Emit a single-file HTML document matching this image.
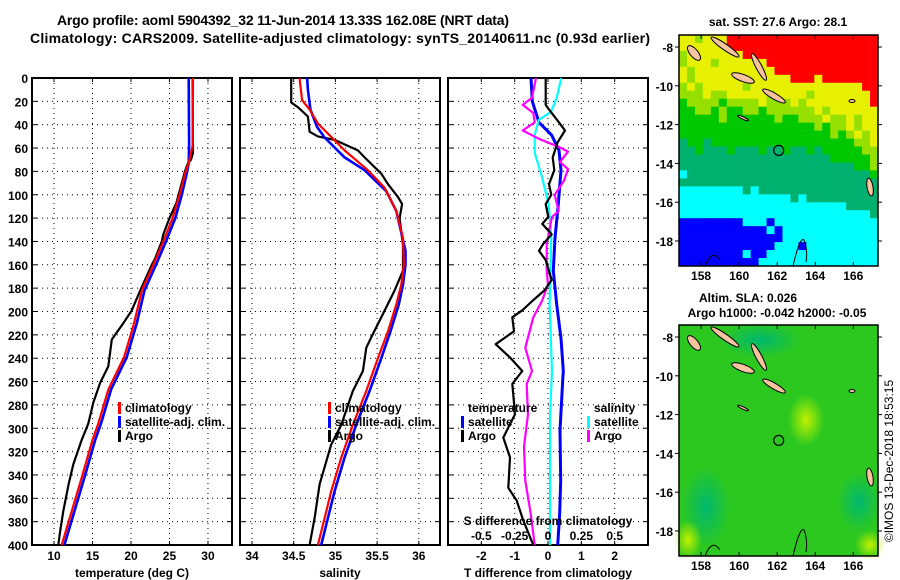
<!DOCTYPE html>
<html><head><meta charset="utf-8">
<style>
html,body{margin:0;padding:0;background:#fff;}
svg{display:block;font-family:"Liberation Sans",Arial,sans-serif;}
.t{font-weight:bold;font-size:14px;}
.tk{font-weight:bold;font-size:12px;}
.lg{font-weight:bold;font-size:12px;}
</style></head>
<body>
<svg id="root" width="900" height="580" viewBox="0 0 900 580">
<text class="t" x="283" y="25" text-anchor="middle" textLength="452">Argo profile: aoml 5904392_32 11-Jun-2014 13.33S 162.08E (NRT data)</text>
<text class="t" x="340" y="43" text-anchor="middle" textLength="620">Climatology: CARS2009. Satellite-adjusted climatology: synTS_20140611.nc (0.93d earlier)</text>
<g id="p1"></g>
<g id="p2"></g>
<g id="p3"></g>
<g id="m1"></g>
<g id="m2"></g>
<text x="893" y="461" font-size="12" text-anchor="middle" transform="rotate(-90 893 461)">©IMOS 13-Dec-2018 18:53:15</text>
</svg>
<script>
// ---------- data ----------
const yTicks=[0,20,40,60,80,100,120,140,160,180,200,220,240,260,280,300,320,340,360,380,400];
const tTicks=[10,15,20,25,30];
const sTicks=[34,34.5,35,35.5,36];
const dTicks=[-2,-1,0,1,2];
const sdTicks=[-0.5,-0.25,0,0.25,0.5];
const sdTickLabels=['-0.5','-0.25','0','0.25','0.5'];

const climTDepth=[0,58,73,80,100,120,140,160,182,210,239,267,296,310,340,370,400];
const climT=[28.06,28.0,27.5,27.1,26.3,25.4,24.2,22.9,21.4,20.4,19.1,17.05,15.75,15.0,13.7,12.35,11.0];
const satT=[27.5,27.55,27.5,27.3,26.6,25.75,24.55,23.25,21.75,20.75,19.45,17.4,16.1,15.35,14.05,12.7,11.35];
const argoTDepth=[0,64,70,73,80,107,120,134,140,155,160,182,199,210,224,247,261,278,296,310,331,348,371,388,400];
const argoT=[28.0,28.05,27.8,27.4,27.0,25.9,25.0,24.2,24.0,23.1,22.7,21.2,20.1,19.0,17.5,17.05,16.0,15.1,14.45,13.6,12.5,11.9,11.2,10.8,10.55];

const climSDepth=[0,19,27,39,62,79,94,114,137,160,177,194,217,240,268,297,325,354,377,400];
const climS=[34.57,34.6,34.69,34.79,35.11,35.39,35.59,35.73,35.81,35.82,35.79,35.73,35.63,35.51,35.37,35.21,35.07,34.95,34.87,34.79];
const satSDepth=[0,10,27,42,51,68,79,97,114,148,160,177,194,217,240,268,297,325,354,377,400];
const satS=[34.66,34.67,34.7,34.78,34.87,35.11,35.35,35.61,35.73,35.84,35.84,35.81,35.76,35.66,35.55,35.41,35.25,35.11,34.99,34.91,34.83];
const argoSDepth=[0,21,25,33,46,50,53,62,68,82,91,102,108,120,143,165,182,205,222,231,251,268,297,314,348,377,400];
const argoS=[34.47,34.47,34.55,34.67,34.69,34.79,34.99,35.27,35.35,35.55,35.63,35.75,35.8,35.77,35.81,35.81,35.71,35.55,35.43,35.37,35.33,35.21,35.07,34.95,34.81,34.75,34.69];

const satDTDepth=[0,20,38,49,62,79,108,137,165,194,223,251,259,302,345,373,400];
const satDT=[-0.51,-0.47,-0.27,0.11,0.33,0.39,0.31,0.21,0.16,0.26,0.39,0.46,0.44,0.36,0.38,0.35,0.29];
const argoDTDepth=[0,23,27,38,45,55,68,79,91,100,108,119,125,134,142,148,156,173,182,191,199,205,217,228,240,251,262,288,308,325,351,362,379,400];
const argoDT=[-0.07,-0.07,0.03,0.33,0.51,0.29,0.14,0.19,0.03,0.1,-0.07,0.01,-0.17,0.11,-0.14,-0.27,-0.07,0.11,-0.11,-0.47,-0.77,-1.07,-1.02,-1.57,-1.12,-0.77,-1.07,-0.99,-1.34,-1.14,-1.19,-0.94,-0.74,-0.44];
const satDSDepth=[0,17,29,36,49,64,85,108,137,194,251,290,340,400];
const satDS=[0.1,0.065,0.022,-0.07,-0.1,-0.1,-0.045,0.005,0.025,0.012,0.03,0.015,0.015,0.015];
const argoDSDepth=[0,17,23,30,38,45,52,59,63,72,78,88,100,114,119,142,165,177,191,205,231,251,262,288,316,345,373,400];
const argoDS=[-0.09,-0.12,-0.19,-0.11,-0.1,-0.19,-0.07,0.08,0.15,0.09,0.15,0.12,0.05,0.08,0.03,-0.01,-0.01,0,-0.045,-0.11,-0.17,-0.12,-0.16,-0.15,-0.18,-0.17,-0.13,-0.1];

const sstRows=[
"YYLYYYRRRRRRRRRRRRRRRRRRR","YYYYYYRRRRRRRRRRRRRRRRRRR","LYYYYYYYRRRRRRRRRRRRRRRRR","LYYYLYYYYYYRRRRRRRRRRRRRR",
"YLYYYYYYYYYYRRRRRRRRRRRRR","YLYYYYYYYYYYYYRRRYRRRRRRR","LYLYYYYYLYYYYYYYYYYYYYYRR","LLLYLLYYYYYLYYYYLYYYYYYYR",
"GLLLLGLLLLYLLLYLYYYYYYYYR","GGLLGLGGLLGLLLLLLYLYYYYYY","GGGGGLGGGGGGLGGLLLYLLYLYY","GGGGGGGGGGGGGGGGGLGLLYLYY",
"GGGGGGGGGGGGGGGGGGGLGLYLY","TGGTGGGGGGGGGGGGGGGGGGLLY","TTGTTTGTTTGTTGTTGTGGGGGLL","TTTTTTTTTTTTTTTTTTTGGGGGL",
"TTTTTTTTTTTTTTTTTTTTTTGGL","CTTTTTTTTTTTTTTTTTTTTTTTG","TTTTTTTTTTTTTTTTTTTTTTTTT","CCCCCCCCTCTTTTTTTTTTTTTTT",
"CCCCCCCCCCCCCCTCTTTTTTTTT","CCCCCCCCCCCCCCCCCCCCCTTTT","CCCCCCCCCCCCCCCCCCCCCCCCT","BBBBBBBBCCCBCCCCCCCCCCCCC",
"BBBBBBBBBBBCBCCCCCCCCCCCC","BBBBBBBBBBBBBCCCCCCCCCCCC","BBBBBBBBBBBBCCCBCCCCCCCCC","BBBBBBBBCBBCCCCCCCCCCCCCC",
"BBBBBBBBBBCCCCCCCCCCCCCCC"];
const lonTicks=[158,160,162,164,166];
const latTicks=[-8,-10,-12,-14,-16,-18];
const argoLon=162.08, argoLat=-13.33;

// ---------- helpers ----------
const NS='http://www.w3.org/2000/svg';
function E(tag,parent){const e=document.createElementNS(NS,tag);parent.appendChild(e);return e;}
const Y0=78, YK=(545-78)/400;
function yD(d){return Y0+d*YK;}

function panel(g,x0,x1,xmin,xmax,ticks,labels,ylabels){
  const sx=v=>x0+(v-xmin)/(xmax-xmin)*(x1-x0);
  ticks.forEach((t,i)=>{
    const l=E('line',g);l.setAttribute('x1',sx(t));l.setAttribute('x2',sx(t));l.setAttribute('y1',Y0);l.setAttribute('y2',545);
    l.setAttribute('stroke','#000');l.setAttribute('stroke-width','1');l.setAttribute('stroke-dasharray','1 4');
    
    
    const tx=E('text',g);tx.setAttribute('x',sx(t));tx.setAttribute('y',560);tx.setAttribute('text-anchor','middle');tx.setAttribute('class','tk');tx.textContent=labels[i];
    
    
    [[545,541],[78,82]].forEach(p=>{const m=E('line',g);m.setAttribute('x1',sx(t));m.setAttribute('x2',sx(t));m.setAttribute('y1',p[0]);m.setAttribute('y2',p[1]);m.setAttribute('stroke','#000');
      
      });
  });
  yTicks.forEach(d=>{
    if(d>0&&d<400){const l=E('line',g);l.setAttribute('x1',x0);l.setAttribute('x2',x1);l.setAttribute('y1',yD(d));l.setAttribute('y2',yD(d));
      l.setAttribute('stroke','#000');l.setAttribute('stroke-dasharray','1 4');
      
      }
    [[x0,x0+5],[x1,x1-5]].forEach(p=>{const m=E('line',g);m.setAttribute('x1',p[0]);m.setAttribute('x2',p[1]);m.setAttribute('y1',yD(d));m.setAttribute('y2',yD(d));m.setAttribute('stroke','#000');
      
      });
    if(ylabels){const tx=E('text',g);tx.setAttribute('x',28);tx.setAttribute('y',yD(d)+5);tx.setAttribute('text-anchor','end');tx.setAttribute('class','tk');tx.textContent=d;
      
      }
  });
  const r=E('rect',g);r.setAttribute('x',x0);r.setAttribute('y',Y0);r.setAttribute('width',x1-x0);r.setAttribute('height',545-Y0);r.setAttribute('fill','none');r.setAttribute('stroke','#000');r.setAttribute('stroke-width','2');
  
  
  return sx;
}
function series(g,sx,depths,vals,color,w,name){
  const p=E('polyline',g);
  p.setAttribute('points',vals.map((v,i)=>sx(v).toFixed(1)+','+yD(depths[i]).toFixed(1)).join(' '));
  p.setAttribute('fill','none');p.setAttribute('stroke',color);p.setAttribute('stroke-width',w);p.setAttribute('stroke-linejoin','round');
  
  
}
function txt(g,x,y,s,cls,anchor,name){const t=E('text',g);t.setAttribute('x',x);t.setAttribute('y',y);t.setAttribute('class',cls);if(anchor)t.setAttribute('text-anchor',anchor);t.textContent=s;
  
  return t;}
function legend(g,x,y,color,label,name){const r=E('rect',g);r.setAttribute('x',x);r.setAttribute('y',y-10);r.setAttribute('width',3);r.setAttribute('height',12);r.setAttribute('fill',color);
  
  
  txt(g,x+7,y,label,'lg',null,name);}

// panel 1
const p1=document.getElementById('p1');
const sx1=panel(p1,32,232,7.14,33.12,tTicks,tTicks.map(String),true);
series(p1,sx1,argoTDepth,argoT,'#000',2.2,'argo-temperature-line');
series(p1,sx1,climTDepth,satT,'#0000ff',2.6,'satellite-temperature-line');
series(p1,sx1,climTDepth,climT,'#ff0000',2.2,'climatology-temperature-line');
legend(p1,118,412,'#ff0000','climatology','legend-climatology');
legend(p1,118,426,'#0000ff','satellite-adj. clim.','legend-satellite');
legend(p1,118,440,'#000','Argo','legend-argo');
txt(p1,132,577,'temperature (deg C)','tk','middle','x-axis-title-temperature');

// panel 2
const p2=document.getElementById('p2');
const sx2=panel(p2,240,440,33.856,36.254,sTicks,sTicks.map(String),false);
series(p2,sx2,argoSDepth,argoS,'#000',2.2,'argo-salinity-line');
series(p2,sx2,satSDepth,satS,'#0000ff',2.6,'satellite-salinity-line');
series(p2,sx2,climSDepth,climS,'#ff0000',2.2,'climatology-salinity-line');
legend(p2,328,412,'#ff0000','climatology','legend-climatology');
legend(p2,328,426,'#0000ff','satellite-adj. clim.','legend-satellite');
legend(p2,328,440,'#000','Argo','legend-argo');
txt(p2,340,577,'salinity','tk','middle','x-axis-title-salinity');

// panel 3
const p3=document.getElementById('p3');
const sx3=panel(p3,448,648,-3,3,dTicks,dTicks.map(String),false);
const sxS=v=>sx3(v*4);
series(p3,sx3,satDTDepth,satDT,'#0000ff',3,'satellite-t-diff-line');
series(p3,sxS,satDSDepth,satDS,'#00ffff',2.2,'satellite-s-diff-line');
series(p3,sxS,argoDSDepth,argoDS,'#ff00ff',2.2,'argo-s-diff-line');
series(p3,sx3,argoDTDepth,argoDT,'#000',2.2,'argo-t-diff-line');
txt(p3,468,412,'temperature','lg',null,'legend-temperature-heading');
legend(p3,461,426,'#0000ff','satellite','legend-t-satellite');
legend(p3,461,440,'#000','Argo','legend-t-argo');
txt(p3,594,412,'salinity','lg',null,'legend-salinity-heading');
legend(p3,587,426,'#00ffff','satellite','legend-s-satellite');
legend(p3,587,440,'#ff00ff','Argo','legend-s-argo');
txt(p3,548,525,'S difference from climatology','lg','middle','s-axis-title');
sdTicks.forEach((v,i)=>{txt(p3,sxS(v),540,sdTickLabels[i],'tk','middle','s-tick-label');});
txt(p3,548,577,'T difference from climatology','tk','middle','x-axis-title-t-diff');

// maps
const MX0=679,MX1=878,LON0=156.84,LON1=167.3;
const LAT0=-7.38,LAT1=-19.29;
const colors={R:'#ff0000',Y:'#e6f000',L:'#96e000',G:'#00c800',T:'#00b06e',C:'#00ffff',B:'#0000ff'};
function mapFrame(g,top){
  const bot=top+231;
  const mx=lon=>MX0+(lon-LON0)/(LON1-LON0)*(MX1-MX0);
  const my=lat=>top+(lat-LAT0)/(LAT1-LAT0)*(bot-top);
  return {mx,my,bot};
}
function islands(g,dy){
  const isl=[[725,47,17,3,35],[759,67,15,3,62],[743,78,12,3.5,20],[774,96,13,3,30],[694,53,9,4,50],[743,118,6,1.2,25],[870,187,3,9,-10],[852,101,3,1.5,0]];
  isl.forEach(s=>{const e=E('ellipse',g);e.setAttribute('cx',s[0]);e.setAttribute('cy',s[1]+dy);e.setAttribute('rx',s[2]);e.setAttribute('ry',s[3]);
    e.setAttribute('transform','rotate('+s[4]+' '+s[0]+' '+(s[1]+dy)+')');e.setAttribute('fill','#f8c4a0');e.setAttribute('stroke','#000');e.setAttribute('stroke-width','1');
    
    });
  const c=E('path',g);c.setAttribute('d','M705 '+(266+dy)+' Q712 '+(248+dy)+' 720 '+(260+dy)+' M793 '+(266+dy)+' Q800 '+(236+dy)+' 804 '+(240+dy)+' Q808 '+(250+dy)+' 806 '+(262+dy));
  c.setAttribute('fill','none');c.setAttribute('stroke','#000');
  
  
}
function mapAxes(g,top,f){
  lonTicks.forEach(l=>{txt(g,f.mx(l),top+245,String(l),'tk','middle','lon-tick-label');
    [[top,top+4],[f.bot,f.bot-4]].forEach(p=>{const m=E('line',g);m.setAttribute('x1',f.mx(l));m.setAttribute('x2',f.mx(l));m.setAttribute('y1',p[0]);m.setAttribute('y2',p[1]);m.setAttribute('stroke','#000');
      
      });});
  latTicks.forEach(l=>{txt(g,673,f.my(l)+5,String(l),'tk','end','lat-tick-label');
    [[MX0,MX0-4],[MX1,MX1+4]].forEach(p=>{const m=E('line',g);m.setAttribute('x1',p[0]);m.setAttribute('x2',p[1]);m.setAttribute('y1',f.my(l));m.setAttribute('y2',f.my(l));m.setAttribute('stroke','#000');
      
      });});
  const ci=E('circle',g);ci.setAttribute('cx',f.mx(argoLon));ci.setAttribute('cy',f.my(argoLat));ci.setAttribute('r',5);ci.setAttribute('fill','none');ci.setAttribute('stroke','#000');ci.setAttribute('stroke-width','1.2');
  
  
  const r=E('rect',g);r.setAttribute('x',MX0);r.setAttribute('y',top);r.setAttribute('width',MX1-MX0);r.setAttribute('height',231);r.setAttribute('fill','none');r.setAttribute('stroke','#000');r.setAttribute('stroke-width','1.5');
  
  
}
// SST map
const m1=document.getElementById('m1');
const f1=mapFrame(m1,35);
const cw=(MX1-MX0)/sstRows[0].length, ch=231/sstRows.length;
sstRows.forEach((row,ri)=>{[...row].forEach((k,ci)=>{
  const c=E('rect',m1);c.setAttribute('x',(MX0+ci*cw).toFixed(2));c.setAttribute('y',(35+ri*ch).toFixed(2));c.setAttribute('width',(cw+0.3).toFixed(2));c.setAttribute('height',(ch+0.3).toFixed(2));c.setAttribute('fill',colors[k]);
  
  
});});
islands(m1,0);
mapAxes(m1,35,f1);
txt(m1,778,26,'sat. SST: 27.6 Argo: 28.1','tk','middle','sst-map-title');

// SLA map
const m2=document.getElementById('m2');
const f2=mapFrame(m2,325);
const defs=E('defs',m2);
defs.innerHTML='<radialGradient id="gT"><stop offset="0" stop-color="#00b870"/><stop offset="1" stop-color="#00b870" stop-opacity="0"/></radialGradient><radialGradient id="gY"><stop offset="0" stop-color="#c0f000"/><stop offset="1" stop-color="#c0f000" stop-opacity="0"/></radialGradient>';
const bg=E('rect',m2);bg.setAttribute('x',MX0);bg.setAttribute('y',325);bg.setAttribute('width',MX1-MX0);bg.setAttribute('height',231);bg.setAttribute('fill','#2cc820');


[[706,507,24,40,'gT'],[859,502,22,30,'gT'],[806,420,18,26,'gY'],[760,340,40,18,'gT'],[870,545,15,15,'gY'],[688,540,14,20,'gY']].forEach(b=>{
  const e=E('ellipse',m2);e.setAttribute('cx',b[0]);e.setAttribute('cy',b[1]);e.setAttribute('rx',b[2]);e.setAttribute('ry',b[3]);e.setAttribute('fill','url(#'+b[4]+')');
  
  });
islands(m2,290);
mapAxes(m2,325,f2);
txt(m2,748,302,'Altim. SLA: 0.026','tk','middle','sla-map-title');
txt(m2,777,317,'Argo h1000: -0.042 h2000: -0.05','tk','middle','sla-map-subtitle');
</script>
</body></html>
